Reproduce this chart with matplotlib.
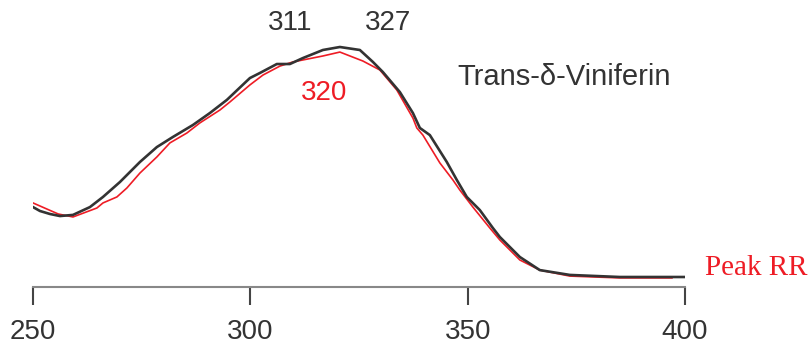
import matplotlib.pyplot as plt

# absorbance spectra, normalised to the 320 nm maximum
wl_black = [250.0, 251.6, 253.9, 256.2, 259.2, 263.1, 266.1, 270.0, 274.6, 278.5,
            282.2, 286.8, 290.7, 294.6, 299.9, 302.2, 306.1, 309.1, 312.1, 316.7,
            320.6, 325.2, 328.2, 330.5, 334.4, 337.4, 339.0, 341.3, 345.2, 347.5,
            349.8, 352.8, 355.8, 357.4, 362.0, 366.6, 373.5, 385.0, 400.0]
abs_black = [0.304, 0.287, 0.274, 0.265, 0.270, 0.304, 0.348, 0.413, 0.500, 0.565,
             0.609, 0.661, 0.713, 0.770, 0.865, 0.887, 0.926, 0.926, 0.952, 0.987,
             1.000, 0.987, 0.935, 0.891, 0.804, 0.713, 0.648, 0.617, 0.500, 0.422,
             0.348, 0.291, 0.213, 0.174, 0.087, 0.030, 0.009, 0.000, 0.000]

wl_red = [250.0, 255.8, 259.2, 264.7, 266.1, 269.3, 271.6, 274.6, 278.5, 281.5,
          285.4, 288.4, 293.0, 295.3, 299.9, 302.9, 306.8, 309.8, 316.7, 320.6,
          325.9, 329.8, 333.7, 337.4, 338.3, 339.7, 343.6, 346.6, 348.2, 351.2,
          355.1, 357.4, 362.0, 366.6, 373.5, 385.0, 397.0]
abs_red = [0.322, 0.274, 0.261, 0.300, 0.322, 0.348, 0.387, 0.452, 0.522, 0.583,
           0.626, 0.670, 0.726, 0.761, 0.835, 0.878, 0.917, 0.935, 0.961, 0.978,
           0.939, 0.900, 0.813, 0.691, 0.648, 0.617, 0.496, 0.422, 0.378, 0.304,
           0.213, 0.161, 0.074, 0.030, 0.004, -0.004, -0.004]

xticks = [250, 300, 350, 400]

BLACK = '#333333'
RED = '#ee1c25'

plt.rcParams['font.family'] = ['Liberation Sans', 'DejaVu Sans']

fig = plt.figure(figsize=(8.11, 3.45), dpi=100)
ax = fig.add_axes([33 / 811, 1 - 287 / 345, (685 - 33) / 811, 287 / 345])

ax.plot(wl_red, abs_red, color=RED, lw=1.2, solid_joinstyle='round')
ax.plot(wl_black, abs_black, color=BLACK, lw=1.9, solid_joinstyle='round')

ax.set_xlim(250, 400)
ax.set_ylim(-10 / 230, 277 / 230)

for s in ['left', 'right', 'top']:
    ax.spines[s].set_visible(False)
ax.spines['bottom'].set_color('#888888')
ax.spines['bottom'].set_linewidth(1.5)
ax.set_yticks([])
ax.set_xticks(xticks)
ax.tick_params(axis='x', direction='out', length=13, width=1.5, color='#444444',
               labelsize=20, labelcolor=BLACK, pad=10)

# peak markers and labels
fig.text(290 / 811, 1 - 23 / 345, '311', color=BLACK, fontsize=20, ha='center', va='center')
fig.text(388 / 811, 1 - 23 / 345, '327', color=BLACK, fontsize=20, ha='center', va='center')
fig.text(324 / 811, 1 - 93 / 345, '320', color=RED, fontsize=20, ha='center', va='center')
fig.text(457 / 811, 1 - 77 / 345, 'Trans-δ-Viniferin', color=BLACK, fontsize=21,
         ha='left', va='center')
fig.text(705 / 811, 1 - 268 / 345, 'Peak RR', color=RED, fontsize=21,
         family='Liberation Serif', ha='left', va='center')

fig.savefig('out.png', dpi=100)
